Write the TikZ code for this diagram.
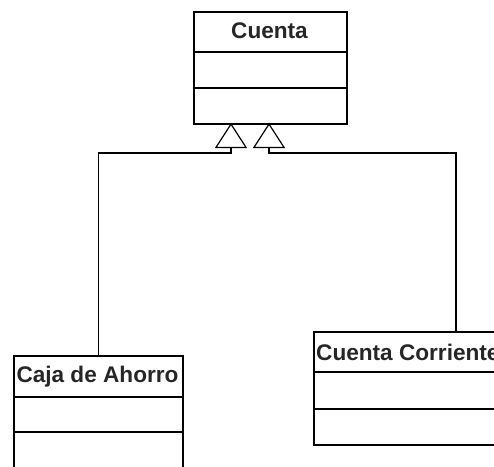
\documentclass[tikz,border=0pt]{standalone}
\usepackage{fontspec}
\setmainfont{Liberation Sans}
\usetikzlibrary{arrows.meta}
\begin{document}
\begin{tikzpicture}[x=1pt,y=-1pt,
  box/.style={draw, line width=1.5pt, rectangle, anchor=north west, inner sep=0pt},
  title/.style={font=\fontsize{22.6}{22.6}\selectfont\bfseries, inner sep=0pt, text=black!85},
  div/.style={line width=1.5pt},
  gen/.style={line width=1.5pt, line join=miter, -{Triangle[open, length=25pt, width=32pt, line width=1.2pt]}}
]
\useasboundingbox (0,0) rectangle (494,466);
\clip (0,0) rectangle (494,466);
% Cuenta
\node[box, minimum width=153pt, minimum height=112pt] (cuenta) at (193,11) {};
\node[title] (cuentaT) at (269.5,31) {Cuenta};
\draw[div] (193,52) -- (346,52);
\draw[div] (193,88) -- (346,88);
% Caja de Ahorro
\node[box, minimum width=169pt, minimum height=140pt] (caja) at (13,355) {};
\node[title] (cajaT) at (97.5,377) {Caja de Ahorro};
\draw[div] (13,397) -- (182,397);
\draw[div] (13,432) -- (182,432);
% Cuenta Corriente
\node[box, minimum width=190pt, minimum height=113pt] (corr) at (313,331) {};
\node[title, anchor=west] (corrT) at (316,352) {Cuenta Corriente};
\draw[div] (313,372) -- (503,372);
\draw[div] (313,409) -- (503,409);
% generalization connectors
\coordinate (t1) at (231,123);
\coordinate (t2) at (269,123);
\coordinate (s2) at (456,331);
\draw[gen] (caja.north) |- (231,153) -- (t1);
\draw[gen] (s2) |- (269,153) -- (t2);
\end{tikzpicture}
\end{document}
